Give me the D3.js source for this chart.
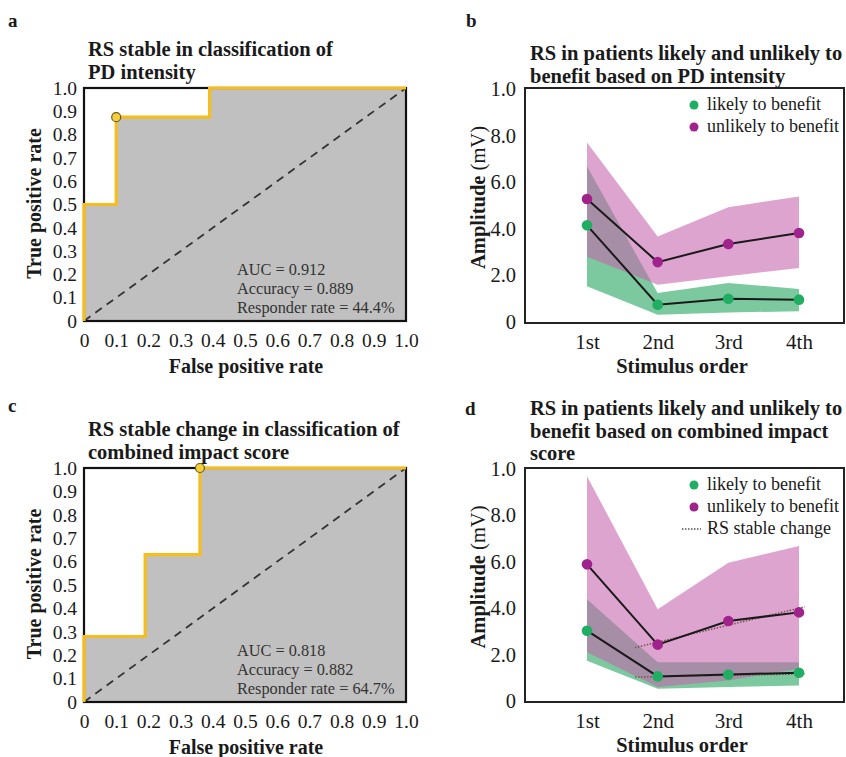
<!DOCTYPE html>
<html>
<head>
<meta charset="utf-8">
<script src="https://cdn.jsdelivr.net/npm/d3@7"></script>
<style>
body { margin: 0; background: #fff; }
text { font-family: "Liberation Serif", "Times New Roman", serif; fill: #1a1a1a; }
</style>
</head>
<body>
<svg id="fig" width="846" height="757"></svg>
<script>
// ROC curves (false positive rate / true positive rate at each step)
var rocTicks = [0, 0.1, 0.2, 0.3, 0.4, 0.5, 0.6, 0.7, 0.8, 0.9, 1.0];
var rocA_fpr = [0, 0, 0.1, 0.1, 0.39, 0.39, 1];
var rocA_tpr = [0, 0.5, 0.5, 0.875, 0.875, 1, 1];
var rocA_cut = [0.1, 0.875];
var rocA_stats = ["AUC = 0.912", "Accuracy = 0.889", "Responder rate = 44.4%"];
var rocC_fpr = [0, 0, 0.19, 0.19, 0.36, 0.36, 1];
var rocC_tpr = [0, 0.28, 0.28, 0.63, 0.63, 1, 1];
var rocC_cut = [0.36, 1.0];
var rocC_stats = ["AUC = 0.818", "Accuracy = 0.882", "Responder rate = 64.7%"];

// amplitude panels
var stimulus = ["1st", "2nd", "3rd", "4th"];
var ampTicks = [0, 2, 4, 6, 8, 10];
var ampTickLabels = ["0", "2.0", "4.0", "6.0", "8.0", "1.0"];
var legendNames = ["likely to benefit", "unlikely to benefit", "RS stable change"];

var bLikely = [4.15, 0.74, 1.0, 0.96];
var bLikelyLo = [1.53, 0.31, 0.41, 0.46];
var bLikelyHi = [6.68, 1.24, 1.67, 1.42];
var bUnlikely = [5.28, 2.57, 3.35, 3.82];
var bUnlikelyLo = [2.8, 1.6, 1.96, 2.32];
var bUnlikelyHi = [7.7, 3.67, 4.93, 5.39];

var dLikely = [3.03, 1.06, 1.14, 1.22];
var dLikelyLo = [1.74, 0.53, 0.6, 0.67];
var dLikelyHi = [4.39, 1.67, 1.67, 1.67];
var dUnlikely = [5.89, 2.43, 3.45, 3.82];
var dUnlikelyLo = [2.1, 0.6, 0.88, 1.39];
var dUnlikelyHi = [9.69, 3.96, 5.96, 6.68];
// dotted "RS stable change" fits, x in stimulus index units
var dFitX = [0.68, 3.08];
var dFitLikely = [1.03, 1.17];
var dFitUnlikely = [2.3, 4.06];

var GREEN = "#1fae62", PURPLE = "#a0228c";

var svg = d3.select("#fig");

function tickFmt(d) { return d === 0 ? "0" : d3.format(".1f")(d); }

function addText(g, x, y, str, size, weight, anchor) {
	return g.append("text").attr("x", x).attr("y", y).text(str)
		.style("font-size", size + "px").style("font-weight", weight || "normal")
		.attr("text-anchor", anchor || "start");
}

function drawRoc(p) {
	var x = d3.scaleLinear().domain([0, 1]).range([84, 406]);
	var y = d3.scaleLinear().domain([0, 1]).range([p.bottom, p.top]);
	var pts = p.fpr.map(function (f, i) { return [f, p.tpr[i]]; });
	var g = svg.append("g");

	//area under curve
	g.append("path").datum(pts)
		.attr("d", d3.area().x(function (d) { return x(d[0]); }).y0(y(0)).y1(function (d) { return y(d[1]); }))
		.attr("fill", "#c0c0c0");
	//chance line
	g.append("line").attr("x1", x(0)).attr("y1", y(0)).attr("x2", x(1)).attr("y2", y(1))
		.attr("stroke", "#333").attr("stroke-width", 1.8).attr("stroke-dasharray", "8,6");
	g.append("rect").attr("x", x(0)).attr("y", y(1)).attr("width", x(1) - x(0)).attr("height", y(0) - y(1))
		.attr("fill", "none").attr("stroke", "#111").attr("stroke-width", 2.2);
	g.append("path").datum(pts)
		.attr("d", d3.line().x(function (d) { return x(d[0]); }).y(function (d) { return y(d[1]); }))
		.attr("fill", "none").attr("stroke", "#f5be1c").attr("stroke-width", 3.2);
	g.append("circle").attr("cx", x(p.cut[0])).attr("cy", y(p.cut[1])).attr("r", 4.5)
		.attr("fill", "#f2cf3c").attr("stroke", "#6b5a1a").attr("stroke-width", 1.2);

	//axes
	var ya = g.append("g").attr("transform", "translate(" + x(0) + ",0)")
		.call(d3.axisLeft(y).tickValues(rocTicks).tickFormat(tickFmt).tickSize(0).tickPadding(7));
	var xa = g.append("g").attr("transform", "translate(0," + y(0) + ")")
		.call(d3.axisBottom(x).tickValues(rocTicks).tickFormat(tickFmt).tickSize(0).tickPadding(12));
	[ya, xa].forEach(function (a) {
		a.select(".domain").remove();
		a.selectAll("text").style("font-size", "19.5px").style("font-family", "Liberation Serif").attr("fill", "#1a1a1a");
	});

	p.stats.forEach(function (s, i) {
		addText(g, 237, y(0) - 46 + i * 19, s, 16.3).style("fill", "#333");
	});
	p.title.forEach(function (s, i) {
		addText(g, 88, p.top - 32 + i * 23, s, 20.5, "bold");
	});
	addText(g, 246, y(0) + 52, "False positive rate", 20, "bold", "middle");
	addText(g, 0, 0, "True positive rate", 20, "bold", "middle")
		.attr("transform", "translate(41," + ((p.top + p.bottom) / 2 - 1) + ") rotate(-90)");
	addText(g, p.letterX, p.letterY, p.letter, 19, "bold");
}

function drawAmp(p) {
	var x = d3.scalePoint().domain(stimulus).range([587, 799]);
	var xi = d3.scaleLinear().domain([0, 3]).range([587, 799]);
	var y = d3.scaleLinear().domain([0, 10]).range([p.bottom - 1, p.top + 1]);
	var g = svg.append("g");

	function band(lo, hi, color, op) {
		g.append("path").datum(stimulus)
			.attr("d", d3.area().x(function (d) { return x(d); })
				.y0(function (d, i) { return y(lo[i]); }).y1(function (d, i) { return y(hi[i]); }))
			.attr("fill", color).attr("fill-opacity", op);
	}
	band(p.likelyLo, p.likelyHi, "#4ab47a", 0.72);
	band(p.unlikelyLo, p.unlikelyHi, "#c468ae", 0.6);

	if (p.fitX) {
		[p.fitLikely, p.fitUnlikely].forEach(function (f) {
			g.append("line").attr("x1", xi(p.fitX[0])).attr("y1", y(f[0]))
				.attr("x2", xi(p.fitX[1])).attr("y2", y(f[1]))
				.attr("stroke", "#7a5050").attr("stroke-width", 1.5).attr("stroke-dasharray", "1.5,1.5");
		});
	}

	[[p.likely, GREEN], [p.unlikely, PURPLE]].forEach(function (s) {
		g.append("path").datum(s[0])
			.attr("d", d3.line().x(function (d, i) { return x(stimulus[i]); }).y(function (d) { return y(d); }))
			.attr("fill", "none").attr("stroke", "#1a1a1a").attr("stroke-width", 2);
		g.selectAll(null).data(s[0]).enter().append("circle")
			.attr("cx", function (d, i) { return x(stimulus[i]); })
			.attr("cy", function (d) { return y(d); })
			.attr("r", 5.3).attr("fill", s[1]);
	});

	//frame
	g.append("rect").attr("x", 525).attr("y", p.top).attr("width", 319).attr("height", p.bottom - p.top)
		.attr("fill", "none").attr("stroke", "#222").attr("stroke-width", 2);

	var ya = g.append("g").attr("transform", "translate(525,0)")
		.call(d3.axisLeft(y).tickValues(ampTicks).tickFormat(function (d, i) { return ampTickLabels[i]; })
			.tickSize(0).tickPadding(9));
	var xa = g.append("g").attr("transform", "translate(0," + p.bottom + ")")
		.call(d3.axisBottom(x).tickSize(0).tickPadding(11));
	ya.select(".domain").remove();
	xa.select(".domain").remove();
	ya.selectAll("text").style("font-size", "20.5px").style("font-family", "Liberation Serif").attr("fill", "#1a1a1a");
	xa.selectAll("text").style("font-size", "21px").style("font-family", "Liberation Serif").attr("fill", "#1a1a1a");

	//legend
	var lg = g.append("g");
	[GREEN, PURPLE].forEach(function (c, i) {
		lg.append("circle").attr("cx", 694).attr("cy", p.legendY + i * 22).attr("r", 4.5).attr("fill", c);
		addText(lg, 707, p.legendY + i * 22 + 5, legendNames[i], 18);
	});
	if (p.fitX) {
		lg.append("line").attr("x1", 682).attr("x2", 701).attr("y1", p.legendY + 44).attr("y2", p.legendY + 44)
			.attr("stroke", "#555").attr("stroke-width", 1.3).attr("stroke-dasharray", "1.5,1.5");
		addText(lg, 707, p.legendY + 49, legendNames[2], 18);
	}

	p.title.forEach(function (s, i) {
		addText(g, 530, p.titleY + i * 22.5, s, 20.5, "bold");
	});
	addText(g, 682, p.bottom + 50, "Stimulus order", 20.5, "bold", "middle");
	var yl = addText(g, 0, 0, "", 20.5, "bold", "middle")
		.attr("transform", "translate(485," + ((p.top + p.bottom) / 2 - 8) + ") rotate(-90)");
	yl.append("tspan").text("Amplitude ");
	yl.append("tspan").style("font-weight", "normal").text("(mV)");
	addText(g, p.letterX, p.letterY, p.letter, 19, "bold");
}

drawRoc({ top: 88, bottom: 321, fpr: rocA_fpr, tpr: rocA_tpr, cut: rocA_cut, stats: rocA_stats,
	title: ["RS stable in classification of", "PD intensity"], letter: "a", letterX: 8, letterY: 27 });
drawRoc({ top: 468, bottom: 702, fpr: rocC_fpr, tpr: rocC_tpr, cut: rocC_cut, stats: rocC_stats,
	title: ["RS stable change in classification of", "combined impact score"], letter: "c", letterX: 8, letterY: 412 });

drawAmp({ top: 88, bottom: 323, likely: bLikely, likelyLo: bLikelyLo, likelyHi: bLikelyHi,
	unlikely: bUnlikely, unlikelyLo: bUnlikelyLo, unlikelyHi: bUnlikelyHi, legendY: 105, titleY: 60,
	title: ["RS in patients likely and unlikely to", "benefit based on PD intensity"],
	letter: "b", letterX: 466, letterY: 27 });
drawAmp({ top: 468, bottom: 702, likely: dLikely, likelyLo: dLikelyLo, likelyHi: dLikelyHi,
	unlikely: dUnlikely, unlikelyLo: dUnlikelyLo, unlikelyHi: dUnlikelyHi, legendY: 485, titleY: 415,
	fitX: dFitX, fitLikely: dFitLikely, fitUnlikely: dFitUnlikely,
	title: ["RS in patients likely and unlikely to", "benefit based on combined impact", "score"],
	letter: "d", letterX: 465, letterY: 415 });
</script>
</body>
</html>
